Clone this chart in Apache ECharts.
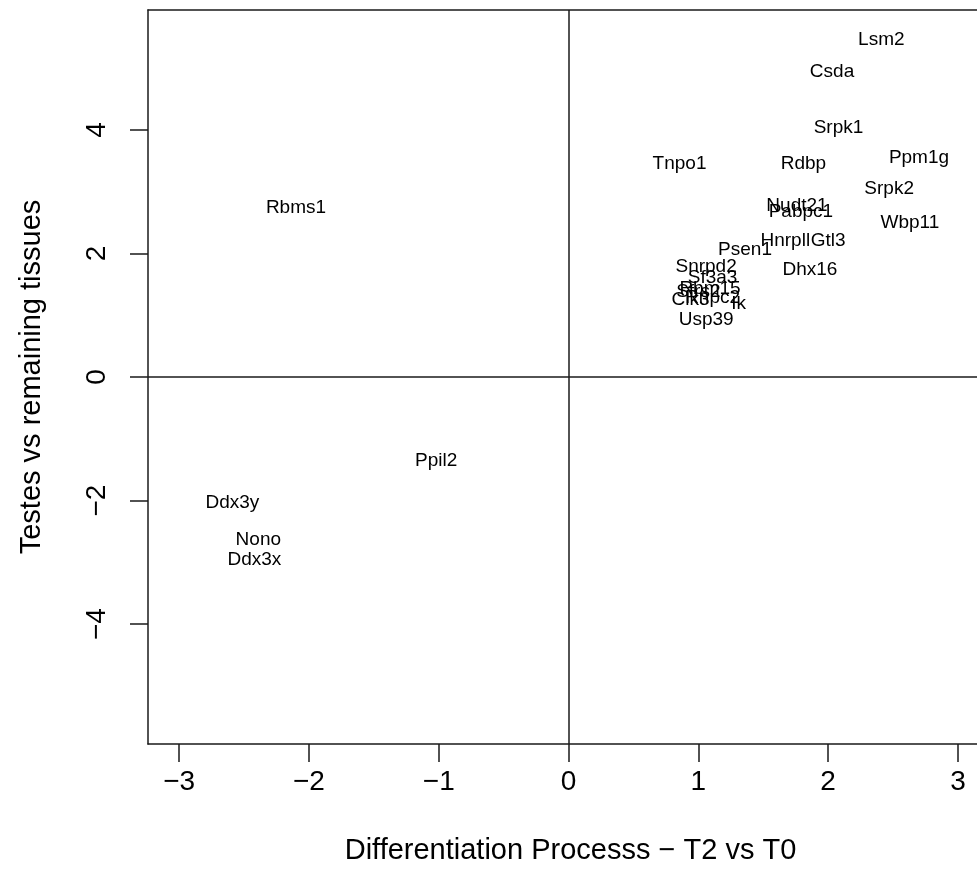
<!DOCTYPE html>
<html>
<head>
<meta charset="utf-8">
<script src="https://cdn.jsdelivr.net/npm/echarts@6/dist/echarts.min.js"></script>
<style>html,body{margin:0;padding:0;background:#fff}#c{width:977px;height:887px}</style>
</head>
<body>
<div id="c"></div>
<script>
const geneNames = ["Lsm2","Csda","Srpk1","Tnpo1","Rdbp","Ppm1g","Srpk2","Rbms1","Nudt21","Pabpc1","Wbp11","Hnrpll","Gtl3","Psen1","Dhx16","Snrpd2","Sf3a3","Rbm15","Sfrs2","Clk3","Rnpc2","Ik","Usp39","Ppil2","Ddx3y","Nono","Ddx3x"];
const xValues = [2.41,2.03,2.08,0.855,1.81,2.70,2.47,-2.10,1.76,1.79,2.63,1.67,2.00,1.36,1.86,1.06,1.11,1.09,1.00,0.94,1.11,1.31,1.06,-1.02,-2.59,-2.39,-2.42];
const yValues = [5.49,4.97,4.06,3.48,3.48,3.58,3.08,2.77,2.80,2.70,2.53,2.23,2.23,2.09,1.77,1.81,1.64,1.46,1.41,1.28,1.31,1.21,0.955,-1.33,-2.01,-2.61,-2.93];
const xTicks = [-3,-2,-1,0,1,2,3];
const yTicks = [-4,-2,0,2,4];
const xTitle = "Differentiation Processs \u2212 T2 vs T0";
const yTitle = "Testes vs remaining tissues";

const FONT = '"Liberation Sans", Arial, Helvetica, sans-serif';
const points = geneNames.map((n, i) => ({ name: n, value: [xValues[i], yValues[i]] }));
const LINE = { color: '#1a1a1a', width: 1.5 };
const fmt = v => (v < 0 ? '\u2212' + Math.abs(v) : String(v));

const chart = echarts.init(document.getElementById('c'), null, { renderer: 'canvas' });
chart.setOption({
  animation: false,
  backgroundColor: '#fff',
  textStyle: { fontFamily: FONT },
  grid: { left: 148, top: 10, right: 0, height: 734, show: false },
  xAxis: [{
    type: 'value', min: -3.24, max: 3.147, position: 'bottom',
    splitLine: { show: false },
    axisLine: { show: true, onZero: false, lineStyle: LINE },
    axisTick: { show: true, inside: false, length: 18, customValues: xTicks, lineStyle: LINE },
    axisLabel: { show: true, customValues: xTicks, fontSize: 28, color: '#000', margin: 24, fontFamily: FONT, formatter: fmt },
    name: xTitle, nameLocation: 'middle', nameGap: 92,
    nameTextStyle: { fontSize: 29, color: '#000', fontFamily: FONT, padding: [0, 0, 0, 16] }
  }, {
    type: 'value', min: -3.24, max: 3.147, position: 'top',
    splitLine: { show: false },
    axisLine: { show: true, onZero: false, lineStyle: LINE },
    axisTick: { show: false }, axisLabel: { show: false }
  }],
  yAxis: {
    type: 'value', min: -5.94, max: 5.94, position: 'left',
    splitLine: { show: false },
    axisLine: { show: true, onZero: false, lineStyle: LINE },
    axisTick: { show: true, inside: false, length: 18, customValues: yTicks, lineStyle: LINE },
    axisLabel: { show: true, customValues: yTicks, fontSize: 28, color: '#000', margin: 37, rotate: 90, fontFamily: FONT, formatter: fmt },
    name: yTitle, nameLocation: 'middle', nameGap: 102,
    nameTextStyle: { fontSize: 29, color: '#000', fontFamily: FONT }
  },
  series: [{
    type: 'scatter',
    xAxisIndex: 0,
    data: points,
    symbolSize: 1,
    itemStyle: { color: 'rgba(0,0,0,0)' },
    label: {
      show: true, position: 'inside', formatter: p => p.name, offset: [0, 2],
      fontSize: 19, color: '#000', opacity: 1, textBorderWidth: 0, fontFamily: FONT, align: 'center', verticalAlign: 'middle'
    },
    emphasis: { disabled: true },
    markLine: {
      silent: true, symbol: 'none', label: { show: false },
      lineStyle: { color: '#1a1a1a', width: 1.5, type: 'solid' },
      data: [{ xAxis: 0 }, { yAxis: 0 }]
    }
  }]
});
</script>
</body>
</html>
